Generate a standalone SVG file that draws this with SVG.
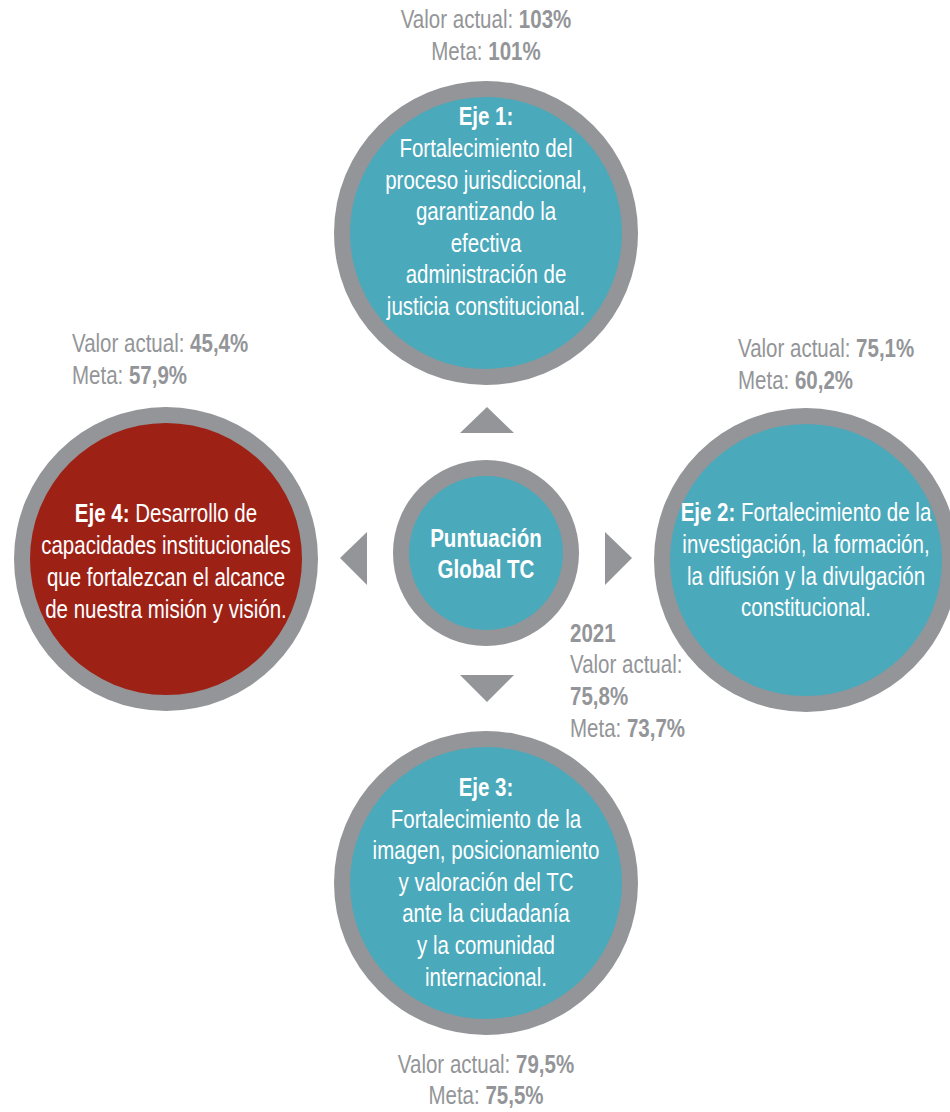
<svg xmlns="http://www.w3.org/2000/svg" width="950" height="1112" viewBox="0 0 950 1112">
<style>
text{font-family:'Liberation Sans',Arial,sans-serif;font-size:25px}
.ring{fill:#939598}
.teal{fill:#4aa9bb}
.red{fill:#9e2116}
.w{fill:#ffffff;text-anchor:middle}
.g{fill:#939598}
.c{text-anchor:middle}
.b{font-weight:bold}
.arr{fill:#939598}
</style>
<rect width="950" height="1112" fill="#ffffff"/>
<g id="connectors">
<polygon class="arr" points="487,407 460,433 514,433"/>
<polygon class="arr" points="605,532 605,585 632,558"/>
<polygon class="arr" points="460,675 514,675 487,702"/>
<polygon class="arr" points="367,532 367,585 340,558"/>
</g>
<g id="eje1">
<circle class="ring" cx="486" cy="233" r="152"/>
<circle class="teal" cx="486" cy="233" r="136"/>
<text class="w" transform="matrix(0.82,0,0,1,87.48,0)"><tspan class="b" x="486" y="125">Eje 1:</tspan><tspan x="486" y="157">Fortalecimiento del</tspan><tspan x="486" y="189">proceso jurisdiccional,</tspan><tspan x="486" y="220">garantizando la</tspan><tspan x="486" y="252">efectiva</tspan><tspan x="486" y="283">administración de</tspan><tspan x="486" y="315">justicia constitucional.</tspan></text>
</g>
<g id="eje4">
<circle class="ring" cx="166" cy="559" r="152"/>
<circle class="red" cx="166" cy="559" r="136"/>
<text class="w" transform="matrix(0.82,0,0,1,29.88,0)"><tspan x="166" y="522"><tspan class="b">Eje 4:</tspan> Desarrollo de</tspan><tspan x="166" y="554">capacidades institucionales</tspan><tspan x="166" y="586">que fortalezcan el alcance</tspan><tspan x="166" y="618">de nuestra misión y visión.</tspan></text>
</g>
<g id="eje2">
<circle class="ring" cx="806" cy="560" r="152"/>
<circle class="teal" cx="806" cy="560" r="136"/>
<text class="w" transform="matrix(0.82,0,0,1,145.08,0)"><tspan x="806" y="521"><tspan class="b">Eje 2:</tspan> Fortalecimiento de la</tspan><tspan x="806" y="553">investigación, la formación,</tspan><tspan x="806" y="585">la difusión y la divulgación</tspan><tspan x="806" y="616">constitucional.</tspan></text>
</g>
<g id="eje3">
<circle class="ring" cx="486" cy="883" r="152"/>
<circle class="teal" cx="486" cy="883" r="136"/>
<text class="w" transform="matrix(0.82,0,0,1,87.48,0)"><tspan class="b" x="486" y="796">Eje 3:</tspan><tspan x="486" y="828">Fortalecimiento de la</tspan><tspan x="486" y="859">imagen, posicionamiento</tspan><tspan x="486" y="891">y valoración del TC</tspan><tspan x="486" y="922">ante la ciudadanía</tspan><tspan x="486" y="954">y la comunidad</tspan><tspan x="486" y="986">internacional.</tspan></text>
</g>
<g id="global">
<circle class="ring" cx="486" cy="553" r="93"/>
<circle class="teal" cx="486" cy="553" r="77"/>
<text class="w b" transform="matrix(0.82,0,0,1,87.48,0)"><tspan x="486" y="547">Puntuación</tspan><tspan x="486" y="578">Global TC</tspan></text>
</g>
<g id="labels">
<text class="g c" transform="matrix(0.82,0,0,1,87.48,0)"><tspan x="486" y="28">Valor actual: <tspan class="b">103%</tspan></tspan><tspan x="486" y="60">Meta: <tspan class="b">101%</tspan></tspan></text>
<text class="g" transform="matrix(0.82,0,0,1,12.96,0)"><tspan x="72" y="352">Valor actual: <tspan class="b">45,4%</tspan></tspan><tspan x="72" y="384">Meta: <tspan class="b">57,9%</tspan></tspan></text>
<text class="g" transform="matrix(0.82,0,0,1,132.84,0)"><tspan x="738" y="357">Valor actual: <tspan class="b">75,1%</tspan></tspan><tspan x="738" y="389">Meta: <tspan class="b">60,2%</tspan></tspan></text>
<text class="g" transform="matrix(0.82,0,0,1,102.6,0)"><tspan class="b" x="570" y="642">2021</tspan><tspan x="570" y="673">Valor actual:</tspan><tspan class="b" x="570" y="705">75,8%</tspan><tspan x="570" y="737">Meta: <tspan class="b">73,7%</tspan></tspan></text>
<text class="g c" transform="matrix(0.82,0,0,1,87.48,0)"><tspan x="486" y="1073">Valor actual: <tspan class="b">79,5%</tspan></tspan><tspan x="486" y="1104">Meta: <tspan class="b">75,5%</tspan></tspan></text>
</g>
</svg>
